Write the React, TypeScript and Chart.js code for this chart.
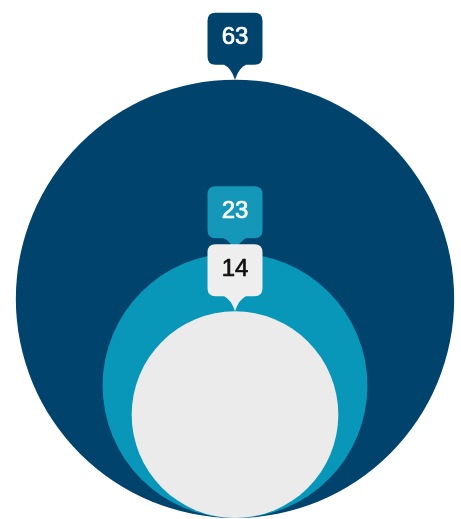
import React, { useEffect, useRef } from "react";
import { Chart, registerables } from "chart.js";

Chart.register(...registerables);

const labels = ["A", "B", "C"];
const values = [63, 23, 14];
const fillColors = ["#00446d", "#0897b9", "#ebebeb"];
const boxColors = ["#00446d", "#1597ba", "#eeeeee"];
const textColors = ["#ffffff", "#ffffff", "#111111"];

const calloutPlugin = {
  id: "callouts",
  afterDatasetsDraw(chart: any) {
    const ctx = chart.ctx;
    const meta = chart.getDatasetMeta(0);
    meta.data.forEach((el: any, i: number) => {
      const r = el.options.radius;
      if (!r) return;
      const cx = el.x;
      const tip = el.y - r;
      const ph = 15;
      const bw = 55;
      const bh = 52;
      const bottom = tip - ph;
      const top = bottom - bh;
      const left = cx - bw / 2;
      const right = cx + bw / 2;
      const rad = 8;
      ctx.save();
      ctx.fillStyle = boxColors[i];
      ctx.beginPath();
      ctx.moveTo(left + rad, top);
      ctx.lineTo(right - rad, top);
      ctx.quadraticCurveTo(right, top, right, top + rad);
      ctx.lineTo(right, bottom - rad);
      ctx.quadraticCurveTo(right, bottom, right - rad, bottom);
      ctx.lineTo(cx + 11, bottom);
      ctx.quadraticCurveTo(cx + 4, bottom + 3, cx, tip);
      ctx.quadraticCurveTo(cx - 4, bottom + 3, cx - 11, bottom);
      ctx.lineTo(left + rad, bottom);
      ctx.quadraticCurveTo(left, bottom, left, bottom - rad);
      ctx.lineTo(left, top + rad);
      ctx.quadraticCurveTo(left, top, left + rad, top);
      ctx.closePath();
      ctx.fill();
      ctx.fillStyle = textColors[i];
      ctx.strokeStyle = textColors[i];
      ctx.lineWidth = 0.7;
      ctx.lineJoin = "round";
      ctx.font = "24px 'Liberation Sans', Arial, sans-serif";
      ctx.textAlign = "center";
      ctx.textBaseline = "middle";
      const ty = (top + bottom) / 2 - 1;
      ctx.fillText(String(values[i]), cx, ty);
      ctx.strokeText(String(values[i]), cx, ty);
      ctx.restore();
    });
  },
};

export default function App() {
  const ref = useRef<HTMLCanvasElement | null>(null);
  useEffect(() => {
    if (!ref.current) return;
    const points = values.map((v) => ({ x: 0, y: Math.sqrt(v), r: 0 }));
    const chart = new Chart(ref.current, {
      type: "bubble",
      data: {
        labels,
        datasets: [
          {
            data: points,
            backgroundColor: fillColors,
            borderWidth: 0,
          } as any,
        ],
      },
      options: {
        responsive: false,
        animation: false,
        events: [],
        layout: { autoPadding: false, padding: { left: 9, right: 0, top: 0, bottom: 1 } },
        scales: {
          x: { display: false, min: -1, max: 1 },
          y: { display: false, min: 0, max: 18.76 },
        },
        plugins: { legend: { display: false }, tooltip: { enabled: false } },
      },
      plugins: [calloutPlugin],
    });
    const s: any = chart.scales.y;
    points.forEach((p) => {
      p.r = s.getPixelForValue(0) - s.getPixelForValue(p.y);
    });
    chart.update("none");
    return () => chart.destroy();
  }, []);
  return (
    <div style={{ position: "absolute", left: 0, top: 0, width: 461, height: 519 }}>
      <canvas ref={ref} width={461} height={519} style={{ display: "block" }} />
    </div>
  );
}
